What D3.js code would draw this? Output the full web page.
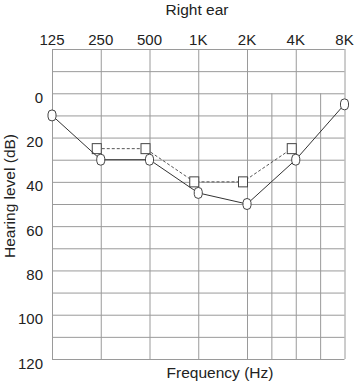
<!DOCTYPE html>
<html>
<head>
<meta charset="utf-8">
<script src="https://cdn.jsdelivr.net/npm/d3@7"></script>
<style>
  body { margin: 0; background: #fff; }
  text { font-family: "Liberation Sans", Arial, sans-serif; fill: #222; }
</style>
</head>
<body>
<svg id="chart" width="354" height="381"></svg>
<script>
// octave frequencies and their top labels
var freqs = [125, 250, 500, 1000, 2000, 4000, 8000];
var freqLabels = ["125", "250", "500", "1K", "2K", "4K", "8K"];
// inter-octave lines (drawn half way, from 0 dB down)
var midFreqs = [2828, 5657];
var dbTicks = [0, 20, 40, 60, 80, 100, 120];

// right ear, air conduction (circles, solid)
var airFreqs = [125, 250, 500, 1000, 2000, 4000, 8000];
var airDb = [10, 30, 30, 45, 50, 30, 5];
// right ear, bone conduction (squares, dashed)
var boneFreqs = [250, 500, 1000, 2000, 4000];
var boneDb = [25, 25, 40, 40, 25];

var svg = d3.select("#chart");

var x = d3.scaleLog().base(2).domain([125, 8000]).range([52, 344.5]);
var y = d3.scaleLinear().domain([-20, 120]).range([49, 359]);

var grid = svg.append("g").attr("stroke", "#9a9a9a").attr("stroke-width", 1);

// horizontal grid, every 10 dB
grid.selectAll("line.h")
    .data(d3.range(-20, 121, 10))
    .enter().append("line")
    .attr("class", "h")
    .attr("x1", x(125)).attr("x2", x(8000))
    .attr("y1", function(d) { return y(d) + 0.5; })
    .attr("y2", function(d) { return y(d) + 0.5; });

// octave verticals
grid.selectAll("line.v")
    .data(freqs)
    .enter().append("line")
    .attr("class", "v")
    .attr("x1", function(d) { return x(d) + 0.5; })
    .attr("x2", function(d) { return x(d) + 0.5; })
    .attr("y1", y(-20)).attr("y2", y(120));

// inter-octave verticals
grid.selectAll("line.m")
    .data(midFreqs)
    .enter().append("line")
    .attr("class", "m")
    .attr("x1", function(d) { return x(d) + 0.5; })
    .attr("x2", function(d) { return x(d) + 0.5; })
    .attr("y1", y(0)).attr("y2", y(120));

// frequency labels on top
svg.selectAll("text.f")
    .data(freqs)
    .enter().append("text")
    .attr("class", "f")
    .attr("x", function(d) { return x(d); })
    .attr("y", 45)
    .attr("text-anchor", "middle")
    .attr("font-size", 15)
    .text(function(d, i) { return freqLabels[i]; });

// dB labels on the left
svg.selectAll("text.db")
    .data(dbTicks)
    .enter().append("text")
    .attr("class", "db")
    .attr("x", 43)
    .attr("y", function(d) { return y(d) + 9.5; })
    .attr("text-anchor", "end")
    .attr("font-size", 15)
    .text(function(d) { return d; });

svg.append("text")
    .attr("x", 197).attr("y", 15)
    .attr("text-anchor", "middle")
    .attr("font-size", 15.5)
    .text("Right ear");

svg.append("text")
    .attr("x", 220).attr("y", 378)
    .attr("text-anchor", "middle")
    .attr("font-size", 15.5)
    .text("Frequency (Hz)");

svg.append("text")
    .attr("transform", "translate(15,196) rotate(-90)")
    .attr("text-anchor", "middle")
    .attr("font-size", 15.5)
    .text("Hearing level (dB)");

// bone conduction: dashed line and squares, offset a little to the left
var boneData = boneFreqs.map(function(f, i) { return [f, boneDb[i]]; });
var boneLine = d3.line()
    .x(function(d) { return x(d[0]) - 4; })
    .y(function(d) { return y(d[1]); });

svg.append("path")
    .attr("d", boneLine(boneData))
    .attr("fill", "none")
    .attr("stroke", "#555")
    .attr("stroke-width", 1)
    .attr("stroke-dasharray", "3,2");

svg.selectAll("rect.bone")
    .data(boneData)
    .enter().append("rect")
    .attr("class", "bone")
    .attr("x", function(d) { return x(d[0]) - 4 - 4.5; })
    .attr("y", function(d) { return y(d[1]) - 5; })
    .attr("width", 9).attr("height", 10)
    .attr("fill", "#fff")
    .attr("stroke", "#444")
    .attr("stroke-width", 1);

// air conduction: solid line and rounded markers
var airData = airFreqs.map(function(f, i) { return [f, airDb[i]]; });
var airLine = d3.line()
    .x(function(d) { return x(d[0]); })
    .y(function(d) { return y(d[1]); });

svg.append("path")
    .attr("d", airLine(airData))
    .attr("fill", "none")
    .attr("stroke", "#333")
    .attr("stroke-width", 1);

svg.selectAll("rect.air")
    .data(airData)
    .enter().append("rect")
    .attr("class", "air")
    .attr("x", function(d) { return x(d[0]) - 4; })
    .attr("y", function(d) { return y(d[1]) - 5.5; })
    .attr("width", 8).attr("height", 11)
    .attr("rx", 4).attr("ry", 4)
    .attr("fill", "#fff")
    .attr("stroke", "#444")
    .attr("stroke-width", 1);
</script>
</body>
</html>
